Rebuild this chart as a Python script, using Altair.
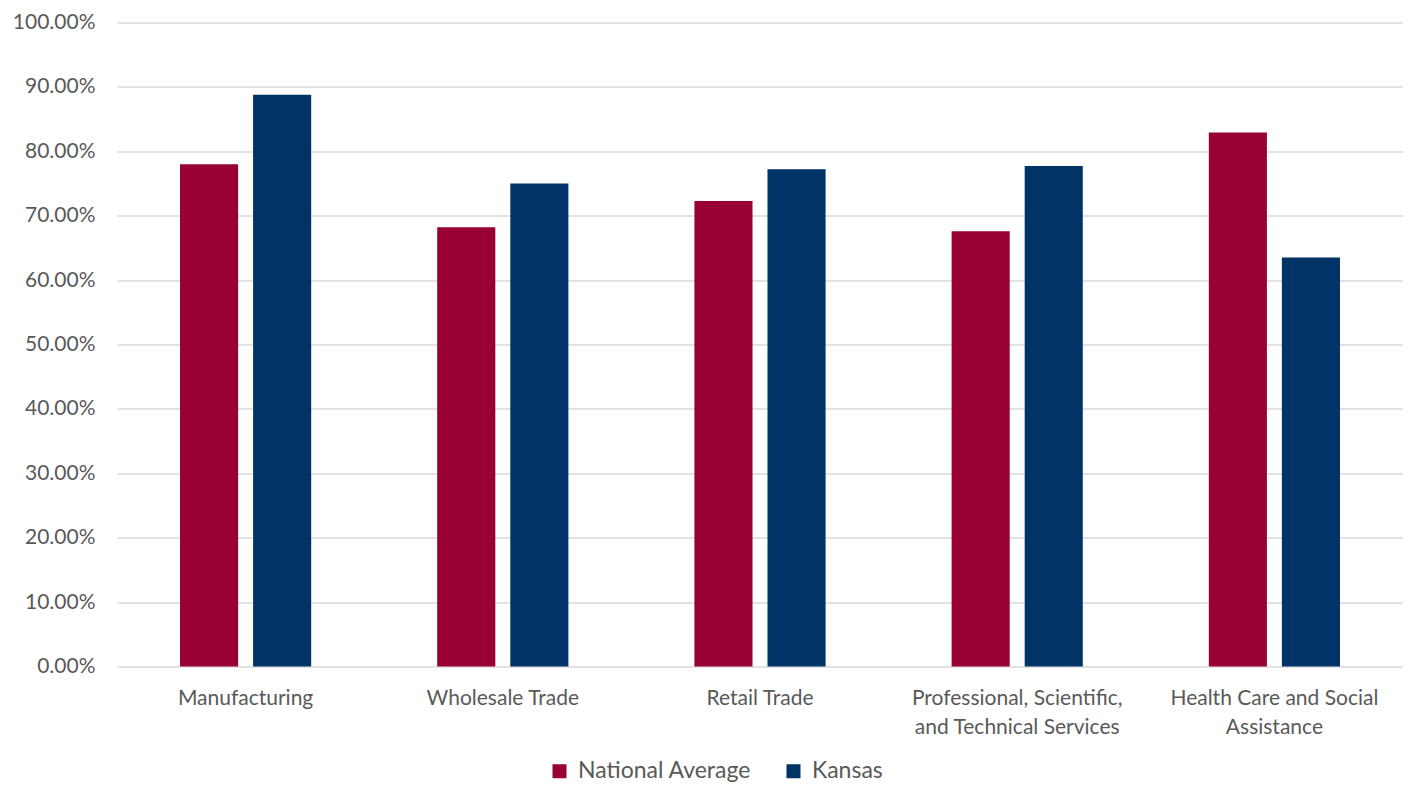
import altair as alt
import pandas as pd

categories = [
    "Manufacturing",
    "Wholesale Trade",
    "Retail Trade",
    "Professional, Scientific, and Technical Services",
    "Health Care and Social Assistance",
]
series_names = ["National Average", "Kansas"]
national_avg = [0.780, 0.682, 0.723, 0.676, 0.829]
kansas = [0.888, 0.750, 0.772, 0.777, 0.635]
colors = ["#990033", "#003366"]
y_ticks = [i / 10 for i in range(11)]

rows = []
for c, n, k in zip(categories, national_avg, kansas):
    rows.append({"category": c, "series": series_names[0], "value": n})
    rows.append({"category": c, "series": series_names[1], "value": k})
df = pd.DataFrame(rows)

label_expr = (
    "datum.label == 'Professional, Scientific, and Technical Services' ? "
    "['Professional, Scientific,', 'and Technical Services'] : "
    "datum.label == 'Health Care and Social Assistance' ? "
    "['Health Care and Social', 'Assistance'] : datum.label"
)

FONT = "Lato"
TXT = "#595959"

chart = alt.Chart(df).mark_bar().encode(
    x=alt.X(
        "category:N",
        sort=categories,
        title=None,
        scale=alt.Scale(paddingInner=0.49, paddingOuter=0.245),
        axis=alt.Axis(
            labelAngle=0,
            labelExpr=label_expr,
            labelFont=FONT,
            labelFontSize=21,
            labelColor=TXT,
            labelPadding=21,
            labelLineHeight=29,
            domain=False,
            ticks=False,
            grid=False,
            labelLimit=400,
        ),
    ),
    xOffset=alt.XOffset(
        "series:N",
        sort=series_names,
        scale=alt.Scale(paddingInner=0.205, paddingOuter=0),
    ),
    y=alt.Y(
        "value:Q",
        title=None,
        scale=alt.Scale(domain=[0, 1], nice=False),
        axis=alt.Axis(
            values=y_ticks,
            format=".2%",
            labelFont=FONT,
            labelFontSize=21,
            labelColor=TXT,
            labelPadding=22,
            domain=False,
            ticks=False,
            grid=True,
            gridColor="#d9d9d9",
            gridWidth=1.5,
        ),
    ),
    color=alt.Color(
        "series:N",
        sort=series_names,
        scale=alt.Scale(domain=series_names, range=colors),
        legend=alt.Legend(
            title=None,
            orient="none",
            direction="horizontal",
            legendX=431,
            legendY=737,
            symbolType="square",
            symbolSize=196,
            symbolStrokeWidth=0,
            symbolOpacity=1,
            labelFont=FONT,
            labelFontSize=23,
            labelColor=TXT,
            labelOffset=7,
            columnPadding=30,
            labelLimit=400,
        ),
    ),
).properties(
    width=1286,
    height=644,
    autosize=alt.AutoSizeParams(type="none"),
    padding={"left": 109, "top": 14.5, "right": 0, "bottom": 117},
).configure(background="white").configure_view(stroke=None, strokeWidth=0)

chart.save("out.html", embed_options={"renderer": "svg", "actions": False})
